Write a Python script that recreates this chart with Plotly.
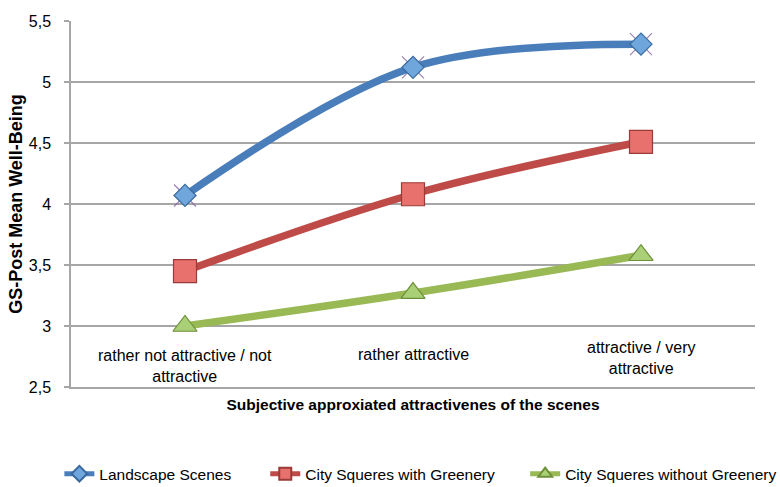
import plotly.graph_objects as go

# Category axis and the three groups of mean well-being scores
categories = [
    "rather not attractive / not<br>attractive",
    "rather attractive",
    "attractive / very<br>attractive",
]
landscape = [4.07, 5.12, 5.31]
city_green = [3.45, 4.08, 4.51]
city_no_green = [3.00, 3.27, 3.58]
series_names = [
    "Landscape Scenes",
    "City Squeres with Greenery",
    "City Squeres without Greenery",
]

FONT = "Liberation Sans, Arial, sans-serif"
x_idx = list(range(len(categories)))

fig = go.Figure()

styles = [
    dict(values=landscape, line="#4A7EBB", fill="#6FA6DC", edge="#3A6A9E",
         symbol="diamond", size=17, legend="legend"),
    dict(values=city_green, line="#BE4B48", fill="#E8706D", edge="#9B3B38",
         symbol="square", size=23, legend="legend2"),
    dict(values=city_no_green, line="#98B954", fill="#A9CF77", edge="#6E8F3A",
         symbol="triangle-up", size=21, legend="legend3"),
]

for name, st in zip(series_names, styles):
    if st["symbol"] == "diamond":
        # thin purple cross sitting behind each diamond marker
        fig.add_trace(go.Scatter(
            x=x_idx, y=st["values"], mode="markers", showlegend=False,
            hoverinfo="skip",
            marker=dict(symbol="x-thin", size=22,
                        line=dict(color="rgba(128,100,162,0.8)", width=1.2)),
        ))
    fig.add_trace(go.Scatter(
        x=x_idx, y=st["values"], name=name, mode="lines+markers",
        legend=st["legend"],
        line=dict(color=st["line"], width=7.5, shape="spline", smoothing=1),
        marker=dict(symbol=st["symbol"], size=st["size"], color=st["fill"],
                    line=dict(color=st["edge"], width=1.2)),
    ))

# Category labels sit inside the plot, just above the bottom axis
label_shift = [21.5, 33, 29.5]
for i, (cat, dy) in enumerate(zip(categories, label_shift)):
    fig.add_annotation(
        x=i, xref="x", y=0, yref="paper", yanchor="middle", yshift=dy,
        text=cat, showarrow=False, align="center",
        font=dict(family=FONT, size=16, color="#000000"),
    )

legend_font = dict(family=FONT, size=15.5, color="#000000")
legend_common = dict(orientation="h", y=-0.238, yanchor="middle",
                     xanchor="left", itemsizing="constant",
                     font=legend_font, bgcolor="rgba(0,0,0,0)")

fig.update_layout(
    width=780, height=487,
    margin=dict(l=71, r=25, t=21, b=100, autoexpand=False),
    paper_bgcolor="white", plot_bgcolor="white",
    separators=",.",
    font=dict(family=FONT, size=16, color="#000000"),
    showlegend=True,
    legend=dict(x=-0.017, **legend_common),
    legend2=dict(x=0.284, **legend_common),
    legend3=dict(x=0.664, **legend_common),
)

fig.update_xaxes(
    range=[-0.5, 2.5], showticklabels=False, ticks="", showgrid=False,
    showline=True, linecolor="#A6A6A6", linewidth=1.5, zeroline=False,
    title=dict(text="<b>Subjective approxiated attractivenes of the scenes</b>",
               standoff=11, font=dict(family=FONT, size=15.5)),
)
fig.update_yaxes(
    range=[2.5, 5.5], dtick=0.5, tick0=2.5,
    showgrid=True, gridcolor="#A6A6A6", gridwidth=1.5,
    showline=True, linecolor="#A6A6A6", linewidth=1.5, zeroline=False,
    ticks="outside", ticklen=5, tickcolor="#A6A6A6", tickwidth=1.5,
    ticklabelstandoff=10,
    tickfont=dict(family=FONT, size=16),
    title=dict(text="<b>GS-Post Mean Well-Being</b>", standoff=1,
               font=dict(family=FONT, size=18)),
)

fig.write_html("out.html")
